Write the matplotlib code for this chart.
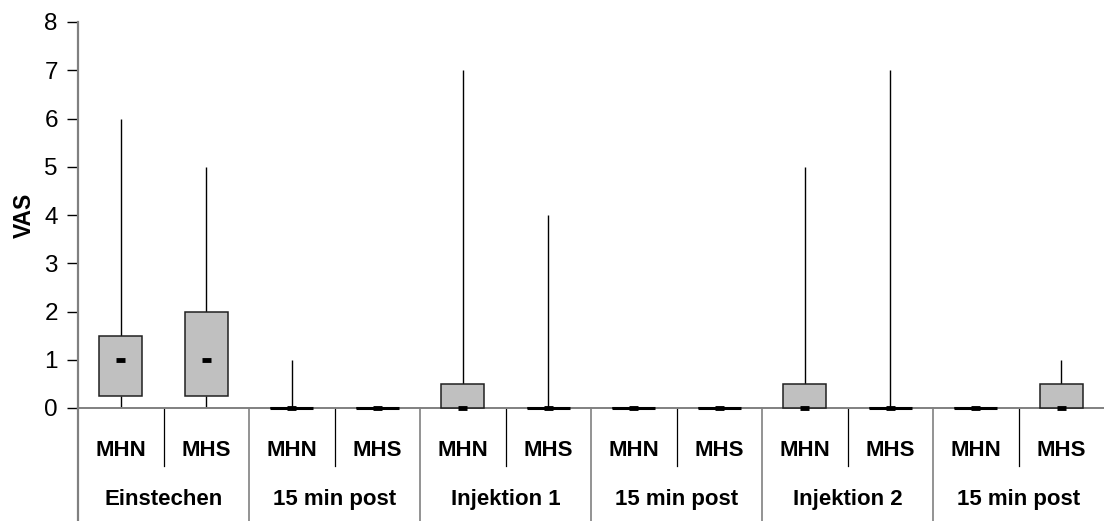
import matplotlib
matplotlib.use("Agg")
import matplotlib.pyplot as plt
import numpy as np

plt.rcParams['font.family'] = ['Liberation Sans', 'DejaVu Sans']

# Phases (groups) and measuring sides per phase
groups = ["Einstechen", "15 min post", "Injektion 1", "15 min post", "Injektion 2", "15 min post"]
sides = ["MHN", "MHS"]

# VAS statistics per box, in order MHN/MHS for each phase
v_min = [0, 0, 0, 0, 0, 0, 0, 0, 0, 0, 0, 0]
v_q1 = [0.25, 0.25, 0, 0, 0, 0, 0, 0, 0, 0, 0, 0]
v_median = [1, 1, 0, 0, 0, 0, 0, 0, 0, 0, 0, 0]
v_q3 = [1.5, 2, 0, 0, 0.5, 0, 0, 0, 0.5, 0, 0, 0.5]
v_max = [6, 5, 1, 0, 7, 4, 0, 0, 5, 7, 0, 1]

y_ticks = [0, 1, 2, 3, 4, 5, 6, 7, 8]

W, H = 1104, 521
fig = plt.figure(figsize=(W / 100, H / 100), dpi=100)
ax = fig.add_axes([78 / W, (H - 408) / H, 1 - 78 / W, (408 - 22) / H])

n = len(v_q3)
x = np.arange(n)
labels = [sides[i % 2] for i in range(n)]

q1 = np.array(v_q1)
q3 = np.array(v_q3)
box_w = 0.5

# whiskers
ax.vlines(x, v_min, q1, color="black", lw=1, zorder=2)
ax.vlines(x, q3, v_max, color="black", lw=1, zorder=2)
# boxes
ax.bar(x, q3 - q1, bottom=q1, width=box_w, color="#c0c0c0",
       edgecolor="#202020", linewidth=1.1, zorder=3, clip_on=False)
# collapsed boxes show as a heavy line
flat = q3 == q1
ax.hlines(q1[flat], x[flat] - box_w / 2, x[flat] + box_w / 2,
          color="black", lw=2.2, zorder=3, clip_on=False)
# medians
ax.hlines(v_median, x - 0.05, x + 0.05, color="black", lw=3.5, zorder=4,
          clip_on=False)

ax.set_xlim(-0.5, n - 0.5)
ax.set_ylim(0, 8)
ax.set_yticks(y_ticks)
ax.set_xticks([])
ax.tick_params(axis="y", direction="out", length=8, width=1, color="black",
               labelsize=17.5, pad=6.5)
for s in ("top", "right"):
    ax.spines[s].set_visible(False)
ax.spines["left"].set_color("#808080")
ax.spines["left"].set_linewidth(1.6)
ax.spines["bottom"].set_color("#808080")
ax.spines["bottom"].set_linewidth(1.4)
ax.set_ylabel("VAS", fontsize=16.5, fontweight="bold", labelpad=6)

# category table below the axis
tr = ax.get_xaxis_transform()
y_side = -0.109
y_group = -0.238
y_inner_end = -0.150
y_bottom = -(H - 408) / (408 - 22)

for i in range(n):
    ax.text(x[i], y_side, labels[i], transform=tr, ha="center", va="center",
            fontsize=16, fontweight="bold")
for g, name in enumerate(groups):
    ax.text(2 * g + 0.5, y_group, name, transform=tr, ha="center", va="center",
            fontsize=16, fontweight="bold")

# separators between sides within a phase
for g in range(len(groups)):
    xs = 2 * g + 0.5
    ax.plot([xs, xs], [0, y_inner_end], transform=tr, color="black", lw=0.9,
            clip_on=False)
# separators between phases and the left edge
for g in range(len(groups)):
    xs = 2 * g - 0.5
    lw = 1.6 if g == 0 else 1.2
    ax.plot([xs, xs], [0, y_bottom], transform=tr, color="#808080", lw=lw,
            clip_on=False)

fig.savefig("out.png", dpi=100)
